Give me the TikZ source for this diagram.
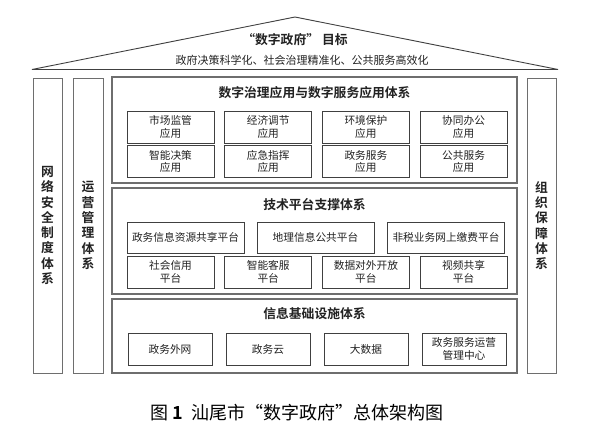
\documentclass[tikz,border=0pt]{standalone}
\usepackage{fontspec}
\setmainfont{Noto Sans CJK SC}[BoldFont={Noto Sans CJK SC Bold}]
\usepackage{tikz}
\usetikzlibrary{positioning}
\definecolor{archLine}{HTML}{404040}
\definecolor{archPanel}{HTML}{6E6E6E}
\definecolor{archText}{HTML}{222222}

\begin{document}
\begin{tikzpicture}[x=1pt, y=-1pt,
    panel/.style={draw=archPanel, line width=1.1pt, minimum width=405pt, inner sep=0pt},
    cell/.style={draw=archLine, line width=0.8pt, minimum height=32pt, inner sep=0pt, align=center,
        text=archText, font=\fontsize{10.7}{12.5}\selectfont},
    ptitle/.style={font=\fontsize{12.8}{15}\selectfont\bfseries, text=archText},
    pillar/.style={draw=archPanel, line width=1pt, minimum height=295pt, inner sep=0pt, align=center,
        text=archText, font=\fontsize{12.8}{15.3}\selectfont\bfseries},
]
\useasboundingbox (0,0) rectangle (595,434);

% roof
\coordinate (roofL) at (32,69.5);
\coordinate (roofR) at (558,69.5);
\coordinate (apex) at (295,17);
\draw[archLine, line width=0.9pt] (roofL) -- (apex) -- (roofR) -- cycle;
\node[font=\fontsize{12.8}{15}\selectfont\bfseries, text=archText] (goal) at (295,40) {“数字政府”\ 目标};
\node[font=\fontsize{11}{13}\selectfont, text=archText] (goalsub) at (302,60) {政府决策科学化、社会治理精准化、公共服务高效化};

% pillars
\node[pillar, minimum width=29pt] (secu) at (47.5,225.5) {网\\络\\安\\全\\制\\度\\体\\系};
\node[pillar, minimum width=30pt] (oper) at (88,225.5) {运\\营\\管\\理\\体\\系};
\node[pillar, minimum width=29pt] (orga) at (541.5,225.5) {组\\织\\保\\障\\体\\系};

% application layer
\node[panel, minimum height=106pt] (app) at (314.5,130) {};
\node[ptitle] (appT) at (314.5,93) {数字治理应用与数字服务应用体系};
\node[cell, minimum width=87pt] (a1) at (170.5,127) {市场监管\\应用};
\node[cell, minimum width=87pt] (a2) at (268.2,127) {经济调节\\应用};
\node[cell, minimum width=87pt] (a3) at (365.9,127) {环境保护\\应用};
\node[cell, minimum width=87pt] (a4) at (463.6,127) {协同办公\\应用};
\node[cell, minimum width=87pt] (a5) at (170.5,161.5) {智能决策\\应用};
\node[cell, minimum width=87pt] (a6) at (268.2,161.5) {应急指挥\\应用};
\node[cell, minimum width=87pt] (a7) at (365.9,161.5) {政务服务\\应用};
\node[cell, minimum width=87pt] (a8) at (463.6,161.5) {公共服务\\应用};

% platform layer
\node[panel, minimum height=106pt] (tech) at (314.5,241) {};
\node[ptitle] (techT) at (314.5,205) {技术平台支撑体系};
\node[cell, minimum width=117pt, minimum height=31pt] (t1) at (185.5,237.5) {政务信息资源共享平台};
\node[cell, minimum width=117pt, minimum height=31pt] (t2) at (315.5,237.5) {地理信息公共平台};
\node[cell, minimum width=117pt, minimum height=31pt] (t3) at (446,237.5) {非税业务网上缴费平台};
\node[cell, minimum width=87pt] (t4) at (170.5,272) {社会信用\\平台};
\node[cell, minimum width=87pt] (t5) at (268.2,272) {智能客服\\平台};
\node[cell, minimum width=87pt] (t6) at (365.9,272) {数据对外开放\\平台};
\node[cell, minimum width=87pt] (t7) at (463.6,272) {视频共享\\平台};

% infrastructure layer
\node[panel, minimum height=74pt] (infra) at (314.5,336) {};
\node[ptitle] (infraT) at (314.5,314) {信息基础设施体系};
\node[cell, minimum width=84pt] (i1) at (170,349) {政务外网};
\node[cell, minimum width=84pt] (i2) at (268,349) {政务云};
\node[cell, minimum width=84pt] (i3) at (366,349) {大数据};
\node[cell, minimum width=84pt] (i4) at (464,349) {政务服务运营\\管理中心};

% caption
\node[font=\fontsize{18}{20}\selectfont] (cap) at (297,413) {图\ \textbf{1}\ \ 汕尾市“数字政府”总体架构图};
\end{tikzpicture}
\end{document}
